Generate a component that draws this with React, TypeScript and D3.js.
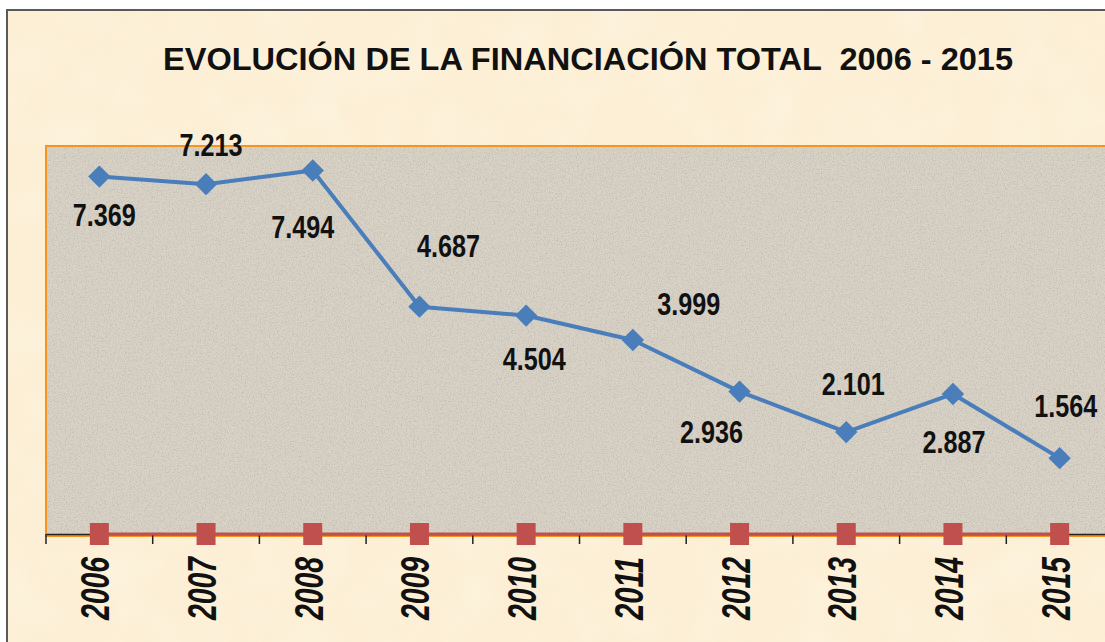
import React, { useRef, useEffect } from "react";
import * as d3 from "d3";

const years = ["2006", "2007", "2008", "2009", "2010", "2011", "2012", "2013", "2014", "2015"];
const financiacion = [7.369, 7.213, 7.494, 4.687, 4.504, 3.999, 2.936, 2.101, 2.887, 1.564];
const baseLine = [0, 0, 0, 0, 0, 0, 0, 0, 0, 0];
const yDomain = [0, 8];
const title = "EVOLUCIÓN DE LA FINANCIACIÓN TOTAL  2006 - 2015";

// where each value label sits relative to its point (px)
const labelNudge = [
  [5, 49], [5, -28], [-10, 67], [29, -50], [8, 54],
  [56, -25], [-28, 51], [7, -37], [1, 59], [6, -41],
];

const W = 1105;
const H = 642;

const App = () => {
  const ref = useRef<SVGSVGElement>(null);

  useEffect(() => {
    const svg = d3.select(ref.current);
    svg.selectAll("*").remove();

    const plot = { left: 46, top: 146, bottom: 534, step: 106.7 };

    const x = d3
      .scaleBand()
      .domain(years)
      .range([plot.left, plot.left + plot.step * years.length]);
    const y = d3.scaleLinear().domain(yDomain).range([plot.bottom, plot.top]);
    const cx = (i: number) => (x(years[i]) as number) + x.bandwidth() / 2;

    const defs = svg.append("defs");
    const f = defs
      .append("filter")
      .attr("id", "grain")
      .attr("x", 0)
      .attr("y", 0)
      .attr("width", "100%")
      .attr("height", "100%");
    f.append("feTurbulence")
      .attr("type", "fractalNoise")
      .attr("baseFrequency", 0.75)
      .attr("numOctaves", 3)
      .attr("seed", 4);
    f.append("feColorMatrix")
      .attr("type", "matrix")
      .attr("values", "0 0 0 0 0.35  0 0 0 0 0.33  0 0 0 0 0.3  2.6 0 0 0 -1.15");

    const fb = defs
      .append("filter")
      .attr("id", "grain2")
      .attr("x", 0)
      .attr("y", 0)
      .attr("width", "100%")
      .attr("height", "100%");
    fb.append("feTurbulence")
      .attr("type", "fractalNoise")
      .attr("baseFrequency", 0.02)
      .attr("numOctaves", 2)
      .attr("seed", 9);
    fb.append("feColorMatrix")
      .attr("type", "matrix")
      .attr("values", "0 0 0 0 1  0 0 0 0 0.97  0 0 0 0 0.9  1.5 0 0 0 -0.6");

    // outer frame
    svg.append("rect").attr("width", W).attr("height", H).attr("fill", "#fff");
    svg
      .append("rect")
      .attr("x", 7)
      .attr("y", 10)
      .attr("width", W + 20)
      .attr("height", H + 20)
      .attr("fill", "#fcefd5")
      .attr("stroke", "#5a5a5a")
      .attr("stroke-width", 2);
    svg
      .append("rect")
      .attr("x", 8)
      .attr("y", 11)
      .attr("width", W)
      .attr("height", H)
      .attr("filter", "url(#grain2)")
      .attr("opacity", 0.35);

    svg
      .append("text")
      .attr("x", 588)
      .attr("y", 70)
      .attr("text-anchor", "middle")
      .attr("font-family", "Liberation Sans, Arial, sans-serif")
      .attr("font-weight", "bold")
      .attr("font-size", 32)
      .attr("textLength", 850)
      .attr("lengthAdjust", "spacingAndGlyphs")
      .attr("fill", "#111")
      .style("white-space", "pre")
      .text(title);

    // plot area
    const plotW = W + 20;
    svg
      .append("rect")
      .attr("x", plot.left)
      .attr("y", plot.top)
      .attr("width", plotW)
      .attr("height", plot.bottom - plot.top + 2)
      .attr("fill", "#d9d2c6")
      .attr("stroke", "#f7941d")
      .attr("stroke-width", 2);
    svg
      .append("rect")
      .attr("x", plot.left + 1)
      .attr("y", plot.top + 1)
      .attr("width", plotW)
      .attr("height", plot.bottom - plot.top)
      .attr("filter", "url(#grain)")
      .attr("opacity", 0.4);

    // x axis
    const axis = svg
      .append("g")
      .attr("transform", `translate(0, ${plot.bottom})`)
      .call(d3.axisBottom(x).tickSize(0).tickFormat(() => ""));
    axis.select(".domain").attr("stroke", "#222").attr("stroke-width", 1.5);
    axis
      .selectAll("line.sep")
      .data(d3.range(years.length + 1))
      .enter()
      .append("line")
      .attr("class", "sep")
      .attr("x1", (i) => plot.left + i * plot.step)
      .attr("x2", (i) => plot.left + i * plot.step)
      .attr("y1", 0)
      .attr("y2", 10)
      .attr("stroke", "#222")
      .attr("stroke-width", 1.5);

    // base series (red, on the axis)
    const line = d3
      .line<number>()
      .x((_, i) => cx(i))
      .y((d) => y(d));

    svg
      .append("path")
      .attr("d", line(baseLine))
      .attr("fill", "none")
      .attr("stroke", "#c0504d")
      .attr("stroke-width", 3);

    svg
      .selectAll("rect.base")
      .data(baseLine)
      .enter()
      .append("rect")
      .attr("class", "base")
      .attr("x", (_, i) => cx(i) - 9.5)
      .attr("y", (d) => y(d) - 11)
      .attr("width", 19)
      .attr("height", 22)
      .attr("fill", "#c0504d");

    // main series
    svg
      .append("path")
      .attr("d", line(financiacion))
      .attr("fill", "none")
      .attr("stroke", "#4a7ebb")
      .attr("stroke-width", 4)
      .attr("stroke-linejoin", "round");

    const diamond = d3.symbol().type(d3.symbolSquare).size(250);
    svg
      .selectAll("path.pt")
      .data(financiacion)
      .enter()
      .append("path")
      .attr("class", "pt")
      .attr("d", diamond)
      .attr("transform", (d, i) => `translate(${cx(i)}, ${y(d)}) rotate(45)`)
      .attr("fill", "#4a7ebb");

    const fmt = d3.format(".3f");
    svg
      .selectAll("text.val")
      .data(financiacion)
      .enter()
      .append("text")
      .attr("class", "val")
      .attr("x", (_, i) => cx(i) + labelNudge[i][0])
      .attr("y", (d, i) => y(d) + labelNudge[i][1])
      .attr("text-anchor", "middle")
      .attr("font-family", "Liberation Sans, Arial, sans-serif")
      .attr("font-weight", "bold")
      .attr("font-size", 31)
      .attr("textLength", 63)
      .attr("lengthAdjust", "spacingAndGlyphs")
      .attr("fill", "#111")
      .text((d) => fmt(d));

    // year labels, rotated
    svg
      .selectAll("text.year")
      .data(years)
      .enter()
      .append("text")
      .attr("class", "year")
      .attr("transform", (d, i) => `translate(${cx(i) + 10}, 557) rotate(-90)`)
      .attr("text-anchor", "end")
      .attr("font-family", "Liberation Sans, Arial, sans-serif")
      .attr("font-weight", "bold")
      .attr("font-style", "italic")
      .attr("font-size", 40)
      .attr("textLength", 63)
      .attr("lengthAdjust", "spacingAndGlyphs")
      .attr("fill", "#111")
      .text((d) => d);
  }, []);

  return (
    <svg
      ref={ref}
      width={W}
      height={H}
      style={{ position: "absolute", left: 0, top: 0 }}
    ></svg>
  );
};

export default App;
